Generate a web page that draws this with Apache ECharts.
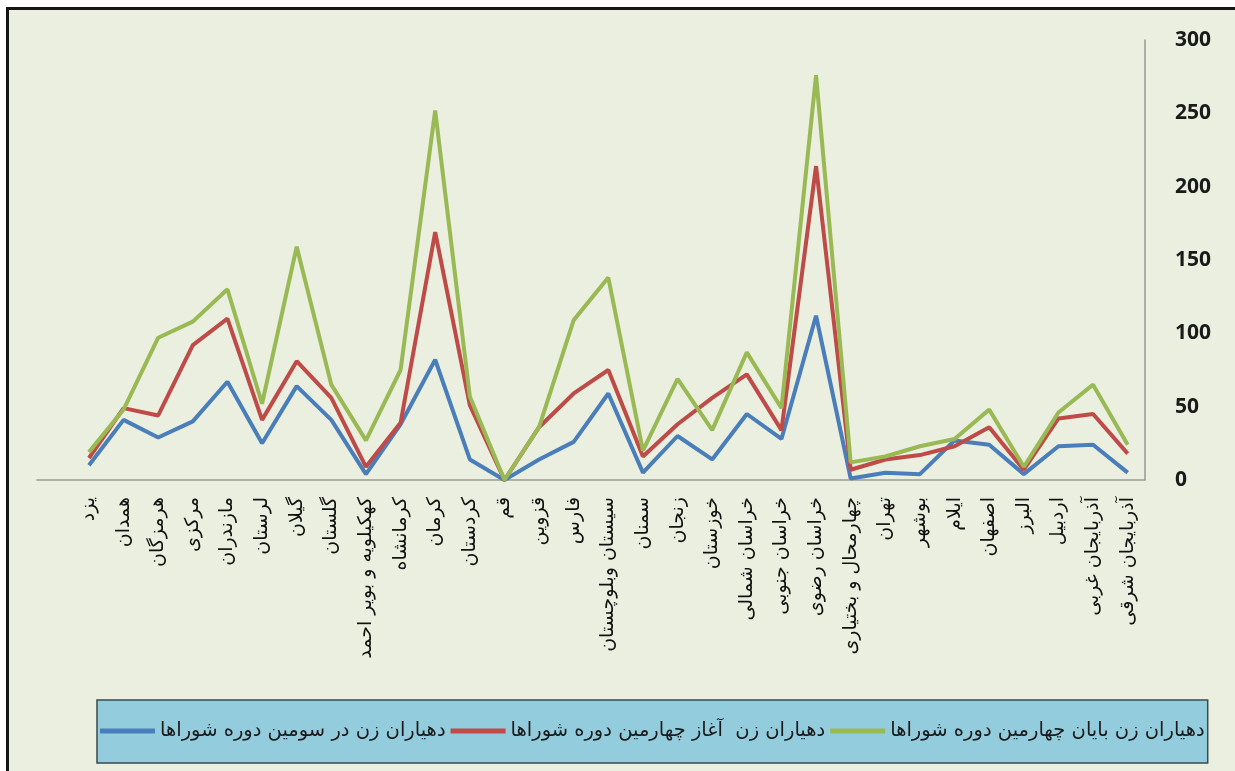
<!DOCTYPE html>
<html>
<head>
<meta charset="utf-8">
<script src="https://cdn.jsdelivr.net/npm/echarts@6/dist/echarts.min.js"></script>
<style>
html,body{margin:0;padding:0;background:#ffffff;width:1235px;height:771px;overflow:hidden;}
#frame{position:absolute;left:6px;top:7px;width:1229px;height:764px;background:#EBEFDF;border-left:3px solid #151515;border-top:3px solid #151515;box-sizing:border-box;}
#chart{position:absolute;left:0;top:0;width:1235px;height:771px;}
</style>
</head>
<body>
<div id="frame"></div>
<div id="chart"></div>
<script>
var categories = ['', 'یزد','همدان','هرمزگان','مرکزی','مازندران','لرستان','گیلان','گلستان','کهکیلویه و بویر احمد','کرمانشاه','کرمان','کردستان','قم','قزوین','فارس','سیستان وبلوچستان','سمنان','زنجان','خوزستان','خراسان شمالی','خراسان جنوبی','خراسان رضوی','چهارمحال و بختیاری','تهران','بوشهر','ایلام','اصفهان','البرز','اردبیل','آذربایجان غربی','آذربایجان شرقی'];
var seriesNames = ['دهیاران زن در سومین دوره شوراها','دهیاران زن  آغاز چهارمین دوره شوراها','دهیاران زن بایان چهارمین دوره شوراها'];
var third = [null, 10,41,29,40,67,25,64,41,4,38,82,14,0,14,26,59,5,30,14,45,28,112,1,5,4,27,24,4,23,24,5];
var fourthStart = [null, 15,49,44,92,110,41,81,56,9,39,169,51,0,36,59,75,16,38,56,72,34,214,7,14,17,23,36,7,42,45,18];
var fourthEnd = [null, 19,48,97,108,130,52,159,65,27,75,252,57,0,36,109,138,20,69,34,87,49,276,12,16,23,28,48,9,46,65,24];
var yTicks = [0,50,100,150,200,250,300];
var colors = ['#4A7EBB','#BE4B48','#98B954'];

var chart = echarts.init(document.getElementById('chart'), null, {renderer:'canvas'});
function mk(name, data, color){
  return {name:name, type:'line', data:data, showSymbol:false, symbol:'none', smooth:false,
    lineStyle:{color:color, width:4}, itemStyle:{color:color}, z:2};
}
chart.setOption({
  animation:false,
  backgroundColor:'transparent',
  grid:{left:37, right:90, top:40, bottom:291, containLabel:false},
  legend:{
    left:97, top:700, orient:'horizontal',
    backgroundColor:'#93CDDD', borderColor:'#3B4A4C', borderWidth:1.5,
    padding:[21,3,22,3], itemGap:5, itemWidth:55, itemHeight:5, icon:'rect',
    textStyle:{fontFamily:'DejaVu Sans', fontSize:19.5, color:'#1a1a1a'},
    data:seriesNames
  },
  xAxis:{
    type:'category', data:categories, boundaryGap:true,
    axisLine:{show:true, lineStyle:{color:'#9A9A92', width:1.5}},
    axisTick:{show:false},
    axisLabel:{interval:0, rotate:90, margin:17, fontFamily:'DejaVu Sans', fontSize:19, color:'#111'},
    splitLine:{show:false}
  },
  yAxis:{
    type:'value', position:'right', min:0, max:300, interval:50,
    axisLine:{show:true, lineStyle:{color:'#9A9A92', width:1.5}},
    axisTick:{show:false},
    splitLine:{show:false},
    axisLabel:{margin:30, fontFamily:'Open Sans', fontWeight:'bold', fontSize:21, color:'#1a1a1a',
      formatter:function(v){return yTicks.indexOf(v)>=0 ? String(v) : '';}}
  },
  series:[mk(seriesNames[0], third, colors[0]), mk(seriesNames[1], fourthStart, colors[1]), mk(seriesNames[2], fourthEnd, colors[2])]
});
</script>
</body>
</html>
